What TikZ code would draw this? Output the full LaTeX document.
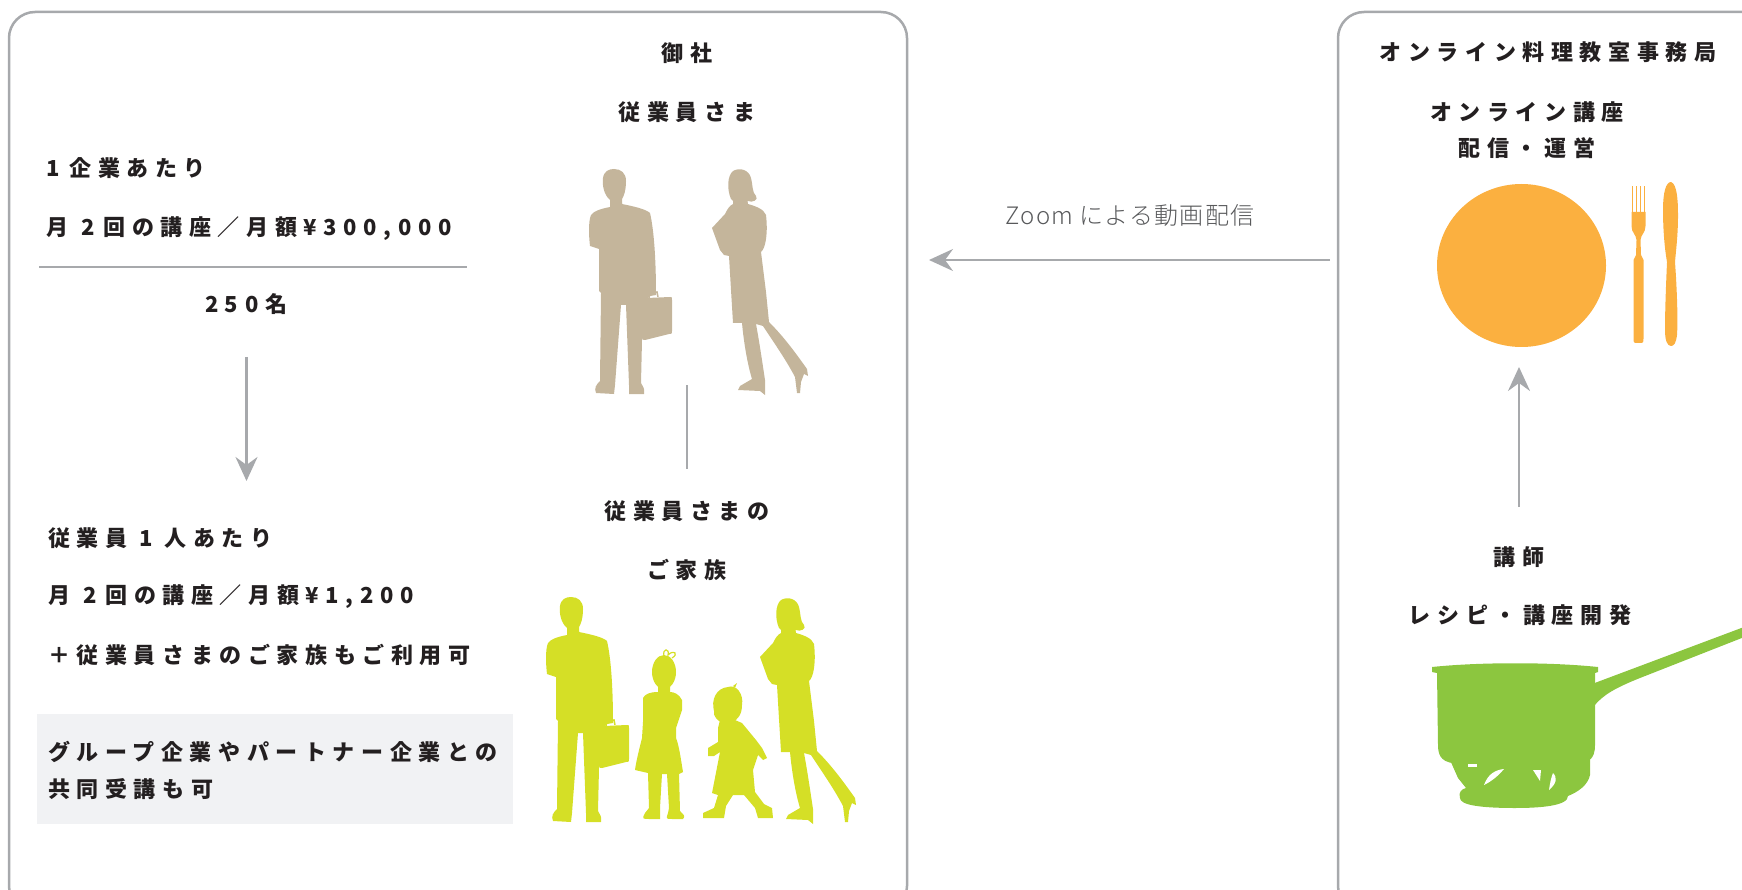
\documentclass[tikz,border=0pt]{standalone}
\usepackage{fontspec}
\setmainfont{Noto Sans CJK JP}
\newfontfamily\jpfont{Noto Sans CJK JP}[LetterSpace=30]
\newfontfamily\jpthin{Noto Sans CJK JP}[UprightFont=* Light, LetterSpace=5]
\usetikzlibrary{arrows.meta}

\definecolor{framegray}{HTML}{A7A9AC}
\definecolor{inkdark}{HTML}{231F20}
\definecolor{inkgray}{HTML}{58595B}
\definecolor{staffbeige}{HTML}{C4B59B}
\definecolor{familylime}{HTML}{D5DF26}
\definecolor{plateorange}{HTML}{FBB040}
\definecolor{potgreen}{HTML}{8CC63F}
\definecolor{notegray}{HTML}{F1F2F4}

\tikzstyle{frame}=[draw=framegray, line width=2.5pt, rounded corners=26pt]
\tikzstyle{link}=[draw=framegray, line width=2.5pt]
\tikzstyle{flow}=[link, -{Stealth[length=24pt,width=22pt,inset=8pt]}]
\tikzstyle{heading}=[font=\jpfont\bfseries\fontsize{22}{26}\selectfont, text=inkdark, inner sep=0pt]
\tikzstyle{lefttext}=[heading, anchor=west]
\tikzstyle{note}=[fill=notegray, minimum width=476pt, minimum height=110pt, inner sep=0pt]

% man with briefcase, drawn at his place in the upper group
\newcommand{\mansil}[1]{%
  \fill[#1] (610,200) .. controls (604,195) and (602,185) .. (603,178)
    .. controls (604,171) and (609,169) .. (614,169) .. controls (621,169) and (626,173) .. (626,181)
    .. controls (626,190) and (624,196) .. (622,199) -- (622,206) -- (610,206) -- cycle;
  \fill[#1] (610,203) -- (610,207) .. controls (600,209) and (594,211) .. (591,215)
    .. controls (588,222) and (589,238) .. (590,246)
    -- (599,249) -- (599,291) -- (601,293) -- (600,381)
    .. controls (596,385) and (594,388) .. (596,393) -- (614,394) -- (615,385)
    -- (621,305) -- (626,305) -- (629,385) -- (629,394) -- (644,394)
    .. controls (645,389) and (643,386) .. (641,383) -- (642,340) -- (646,300)
    -- (650,296) -- (656,295)
    .. controls (656,260) and (654,230) .. (650,213)
    .. controls (646,209) and (632,206) .. (622,204) -- (622,203) -- cycle;
  \fill[#1] (647,298) -- (670,297) .. controls (672,297) .. (672,300) -- (672,331)
    .. controls (672,334) .. (669,334) -- (645,340) .. controls (642,340) .. (642,337) -- (643,301) -- cycle;
  \draw[#1, line width=1.5pt] (649,298) -- (650,293) -- (657,292) -- (658,297);
}
% woman holding a folder
\newcommand{\womansil}[1]{%
  \fill[#1] (731,199) .. controls (727,190) and (727,176) .. (733,171)
    .. controls (740,167) and (749,170) .. (751,178) .. controls (753,186) and (752,192) .. (756,196)
    .. controls (759,200) and (752,203) .. (748,201) -- (742,203) -- (735,203) -- cycle;
  \fill[#1] (733,198) -- (733,204) .. controls (729,206) and (727,210) .. (725,214)
    -- (712,228) -- (720,250) -- (724,255) -- (729,256)
    -- (731,290) -- (733,323) -- (742,323)
    .. controls (744,345) and (748,366) .. (752,379) -- (740,386) -- (738,390)
    -- (760,391) -- (765,395) -- (765,380)
    .. controls (762,360) and (759,340) .. (756,324)
    -- (763,326) .. controls (772,340) and (785,358) .. (795,377)
    -- (797,393) -- (800,393) -- (801,382) -- (804,374) -- (808,376) -- (807,369)
    .. controls (797,355) and (785,338) .. (769,322)
    -- (766,292) -- (761,252) .. controls (766,248) and (768,232) .. (766,215)
    .. controls (764,209) and (755,206) .. (748,204) -- (747,198) -- cycle;
}

\begin{document}
\begin{tikzpicture}[x=1pt, y=-1pt]
\useasboundingbox (0,0) rectangle (1742,890);

% the two panels
\draw[frame] (9,12) rectangle (907,912);
\draw[frame] (1338,12) rectangle (1792,912);

% left panel: prices
\foreach \pos/\name/\txt in {{(46,168)/perco/1\kern10pt 企業あたり}, {(46,229)/copay/月\kern13pt 2\kern9pt 回の講座／月額¥300,000},
    {(48,538)/perhead/従業員\kern12pt 1\kern12pt 人あたり}, {(48,597)/headpay/月\kern13pt 2\kern9pt 回の講座／月額¥1,200},
    {(48,655)/plusfam/＋従業員さまのご家族もご利用可}}
  \node[lefttext] (\name) at \pos {\txt};
\draw[link] (39,267) -- (467,267);
\node[heading] (staffnum) at (246,304) {250名};
\coordinate (divtop) at (246.5,357);
\coordinate (divbot) at (246.5,481);
\draw[flow] (divtop) -- (divbot);

\node[note] (notebox) at (275,769) {};
\node[lefttext] (note1) at (48,752) {グループ企業やパートナー企業との};
\node[lefttext] (note2) at (48,789) {共同受講も可};

% left panel: people
\foreach \pos/\name/\txt in {{(687,53)/client/御社}, {(687,112)/staff/従業員さま},
    {(687,511)/famA/従業員さまの}, {(687,570)/famB/ご家族}}
  \node[heading] (\name) at \pos {\txt};
\mansil{staffbeige}
\womansil{staffbeige}
\coordinate (stafffoot) at (687,385);
\coordinate (famhead) at (687,469);
\draw[link] (stafffoot) -- (famhead);

\begin{scope}[shift={(-43,428)}]
  \mansil{familylime}
\end{scope}
\begin{scope}[shift={(48,429)}]
  \womansil{familylime}
\end{scope}
% girl
\fill[familylime] (664,672) ellipse [x radius=12, y radius=17];
\draw[familylime, line width=1.2pt] (664,656) .. controls (662,648) and (670,648) .. (668,655)
  .. controls (674,649) and (679,654) .. (672,658);
\fill[familylime] (658,686) -- (658,692) .. controls (650,692) and (645,694) .. (643,698)
  -- (643,722) -- (642,738) .. controls (639,750) and (636,762) .. (635,770)
  -- (648,773) -- (649,808) -- (645,813) .. controls (642,819) .. (650,819) -- (660,819)
  -- (660,808) -- (662,774) -- (667,774) -- (669,808) -- (668,813)
  .. controls (666,819) .. (672,819) -- (683,819) .. controls (685,816) .. (680,811)
  -- (679,774) -- (683,772)
  .. controls (681,760) and (679,745) .. (676,738) -- (676,728) -- (682,710) -- (682,700)
  .. controls (679,694) and (674,692) .. (670,692) -- (670,686) -- cycle;
% boy
\fill[familylime] (714,711) .. controls (711,700) and (716,688) .. (728,687)
  .. controls (736,684) and (744,694) .. (742,705) .. controls (742,714) and (738,720) .. (732,722)
  -- (722,723) .. controls (717,720) and (713,716) .. (714,711) -- cycle;
\fill[familylime] (733,686) -- (737,683) -- (735,688) -- cycle;
\fill[familylime] (720,720) -- (718,728) -- (718,742) -- (708,748) -- (708,756) -- (714,756)
  -- (720,752) -- (713,788) -- (712,793) -- (718,795) -- (714,808) -- (703,813) -- (703,818)
  -- (724,818) -- (726,806) -- (733,795) -- (744,795) -- (755,808) -- (758,818)
  -- (773,818) -- (772,808) -- (764,804) -- (755,792) -- (753,770) -- (758,755) -- (763,760)
  -- (767,758) -- (762,748) -- (756,740) -- (742,723) -- (735,720) -- cycle;

% delivery between the panels
\coordinate (zoomfrom) at (1330,260);
\coordinate (zoomto) at (929,260);
\draw[flow] (zoomfrom) -- (zoomto);
\node[font=\jpthin\fontsize{24}{28}\selectfont, text=inkgray, inner sep=0pt] (zoomlabel) at (1130,215) {Zoom による動画配信};

% right panel
\node[heading] (office) at (1548,52) {オンライン料理教室事務局};
\node[heading] (online) at (1527,112) {オンライン講座};
\node[heading] (runit) at (1527,148) {配信・運営};
\node[heading] (chef) at (1519,557) {講師};
\node[heading] (recipe) at (1520,615) {レシピ・講座開発};

\fill[plateorange] (1521.5,265.5) ellipse [x radius=84.5, y radius=81.5];
% fork
\foreach \tx in {1632.5,1636.5,1640.5,1644.5}
  \fill[plateorange] (\tx-0.9,186) rectangle (\tx+0.9,214);
\fill[plateorange] (1631.5,212) -- (1645.5,212) -- (1645.5,226)
  .. controls (1645.5,233) and (1641,234) .. (1640.5,240) -- (1641,255) -- (1643.5,260)
  -- (1643.5,338) .. controls (1643.5,343) .. (1638.5,343) .. controls (1633.5,343) .. (1633.5,338)
  -- (1633.5,260) -- (1636,255) -- (1636.5,240)
  .. controls (1636,234) and (1631.5,233) .. (1631.5,226) -- cycle;
% knife
\fill[plateorange] (1671,182) .. controls (1677,184) and (1678,200) .. (1678,215)
  .. controls (1678,235) and (1676,250) .. (1675,262)
  .. controls (1677,290) and (1678,320) .. (1677,335)
  .. controls (1676,343) and (1674,346) .. (1671,346)
  .. controls (1667,346) and (1665,340) .. (1665,330)
  .. controls (1665,310) and (1666,285) .. (1667,262)
  .. controls (1664,245) and (1663,225) .. (1663,210)
  .. controls (1663,192) and (1666,182) .. (1671,182) -- cycle;

\coordinate (chefout) at (1519,507);
\coordinate (platein) at (1519,367);
\draw[flow] (chefout) -- (platein);

% saucepan on a burner
\fill[potgreen] (1592,684) -- (1752,624) -- (1752,634) -- (1640,678)
  .. controls (1615,688) and (1603,695) .. (1594,706) -- cycle;
\fill[potgreen] (1432,667) .. controls (1480,662) and (1550,662) .. (1598,667) -- (1598,672)
  -- (1595,673) -- (1595,745) .. controls (1595,760) and (1588,763) .. (1575,764)
  -- (1460,764) .. controls (1443,763) and (1438,758) .. (1438,745) -- (1437,673)
  -- (1432,672) -- cycle;
\fill[potgreen] (1450,760) -- (1590,760) -- (1590,775) .. controls (1588,785) and (1578,792) .. (1568,796)
  .. controls (1568,806) and (1540,808) .. (1515,808) .. controls (1480,808) and (1460,805) .. (1460,798)
  .. controls (1458,792) and (1462,789) .. (1466,788) -- (1458,778) -- cycle;
\fill[white] (1484,785) .. controls (1488,774) and (1495,770) .. (1504,769)
  .. controls (1498,776) and (1492,781) .. (1484,785) -- cycle;
\fill[white] (1533,770) -- (1541,770) -- (1540,781) -- cycle;
\fill[white] (1553,773) .. controls (1558,778) and (1556,784) .. (1549,790)
  .. controls (1550,783) and (1551,778) .. (1553,773) -- cycle;
\fill[white] (1468,764) rectangle (1477,767);
\end{tikzpicture}
\end{document}
